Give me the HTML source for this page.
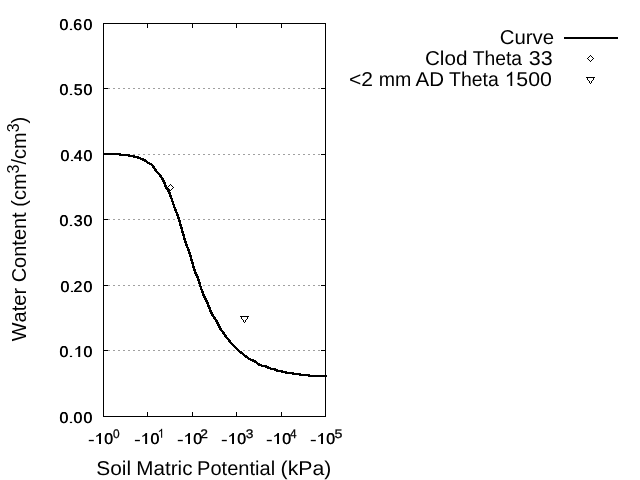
<!DOCTYPE html>
<html><head><meta charset="utf-8"><title>Water Retention Curve</title>
<style>html,body{margin:0;padding:0;background:#fff;width:640px;height:480px;overflow:hidden}text{font-kerning:none}</style>
</head><body>
<svg width="640" height="480" viewBox="0 0 640 480" style="position:absolute;left:0;top:0;will-change:transform">
<rect x="0" y="0" width="640" height="480" fill="#fff"/>
<path d="M103,350.5H325" stroke="#a0a0a0" stroke-width="1" stroke-dasharray="2,3" shape-rendering="crispEdges" fill="none"/>
<path d="M103,285.5H325" stroke="#a0a0a0" stroke-width="1" stroke-dasharray="2,3" shape-rendering="crispEdges" fill="none"/>
<path d="M103,219.5H325" stroke="#a0a0a0" stroke-width="1" stroke-dasharray="2,3" shape-rendering="crispEdges" fill="none"/>
<path d="M103,154.5H325" stroke="#a0a0a0" stroke-width="1" stroke-dasharray="2,3" shape-rendering="crispEdges" fill="none"/>
<path d="M103,88.5H325" stroke="#a0a0a0" stroke-width="1" stroke-dasharray="2,3" shape-rendering="crispEdges" fill="none"/>
<g shape-rendering="crispEdges" fill="#000">
<rect x="103" y="23" width="223" height="1"/>
<rect x="103" y="416" width="223" height="1"/>
<rect x="103" y="23" width="1" height="394"/>
<rect x="325" y="23" width="1" height="394"/>
<rect x="104" y="350" width="4" height="1"/>
<rect x="321" y="350" width="4" height="1"/>
<rect x="104" y="285" width="4" height="1"/>
<rect x="321" y="285" width="4" height="1"/>
<rect x="104" y="219" width="4" height="1"/>
<rect x="321" y="219" width="4" height="1"/>
<rect x="104" y="154" width="4" height="1"/>
<rect x="321" y="154" width="4" height="1"/>
<rect x="104" y="88" width="4" height="1"/>
<rect x="321" y="88" width="4" height="1"/>
<rect x="147" y="412" width="1" height="4"/>
<rect x="147" y="24" width="1" height="4"/>
<rect x="192" y="412" width="1" height="4"/>
<rect x="192" y="24" width="1" height="4"/>
<rect x="236" y="412" width="1" height="4"/>
<rect x="236" y="24" width="1" height="4"/>
<rect x="281" y="412" width="1" height="4"/>
<rect x="281" y="24" width="1" height="4"/>
</g>
<polyline points="104,154 106,154 108,154 110,154 112,154 115,154 117,154 119,154 121,155 124,155 126,155 128,155 130,156 133,156 135,157 137,157 139,158 142,159 144,160 146,161 148,163 151,164 153,166 155,169 157,172 160,175 162,178 164,182 166,187 169,192 171,197 173,203 175,209 178,216 180,223 182,230 184,237 186,244 189,251 191,258 193,265 195,272 198,278 200,285 202,291 204,296 207,302 209,307 211,312 213,316 216,320 218,324 220,328 222,331 225,335 227,338 229,340 231,343 234,346 236,348 238,350 240,352 243,354 245,356 247,357 249,359 252,360 254,361 256,362 258,364 260,365 263,366 265,366 267,367 269,368 272,369 274,369 276,370 278,371 281,371 283,372 285,372 287,373 290,373 292,373 294,374 296,374 299,374 301,375 303,375 305,375 308,375 310,376 312,376 314,376 317,376 319,376 321,376 323,376 327,376" fill="none" stroke="#000" stroke-width="2.5" stroke-linejoin="round" shape-rendering="crispEdges"/>
<rect x="564" y="37" width="54" height="2" fill="#000" shape-rendering="crispEdges"/>
<g shape-rendering="crispEdges" fill="#000">
<rect x="170" y="184" width="1" height="1"/><rect x="169" y="185" width="1" height="1"/><rect x="171" y="185" width="1" height="1"/><rect x="168" y="186" width="1" height="1"/><rect x="172" y="186" width="1" height="1"/><rect x="167" y="187" width="1" height="1"/><rect x="173" y="187" width="1" height="1"/><rect x="168" y="188" width="1" height="1"/><rect x="172" y="188" width="1" height="1"/><rect x="169" y="189" width="1" height="1"/><rect x="171" y="189" width="1" height="1"/><rect x="170" y="190" width="1" height="1"/>
<rect x="240" y="316" width="9" height="1"/><rect x="241" y="317" width="1" height="1"/><rect x="247" y="317" width="1" height="1"/><rect x="241" y="318" width="1" height="1"/><rect x="247" y="318" width="1" height="1"/><rect x="242" y="319" width="1" height="1"/><rect x="246" y="319" width="1" height="1"/><rect x="243" y="320" width="1" height="1"/><rect x="245" y="320" width="1" height="1"/><rect x="243" y="321" width="1" height="1"/><rect x="245" y="321" width="1" height="1"/><rect x="244" y="322" width="1" height="1"/>
<rect x="590" y="55" width="1" height="1"/><rect x="589" y="56" width="1" height="1"/><rect x="591" y="56" width="1" height="1"/><rect x="588" y="57" width="1" height="1"/><rect x="592" y="57" width="1" height="1"/><rect x="587" y="58" width="1" height="1"/><rect x="593" y="58" width="1" height="1"/><rect x="588" y="59" width="1" height="1"/><rect x="592" y="59" width="1" height="1"/><rect x="589" y="60" width="1" height="1"/><rect x="591" y="60" width="1" height="1"/><rect x="590" y="61" width="1" height="1"/>
<rect x="586" y="77" width="9" height="1"/><rect x="587" y="78" width="1" height="1"/><rect x="593" y="78" width="1" height="1"/><rect x="587" y="79" width="1" height="1"/><rect x="593" y="79" width="1" height="1"/><rect x="588" y="80" width="1" height="1"/><rect x="592" y="80" width="1" height="1"/><rect x="589" y="81" width="1" height="1"/><rect x="591" y="81" width="1" height="1"/><rect x="589" y="82" width="1" height="1"/><rect x="591" y="82" width="1" height="1"/><rect x="590" y="83" width="1" height="1"/>
</g>
<text transform="translate(59.33,423) scale(1.02,1)" font-family="Liberation Sans, sans-serif" font-size="15.6" letter-spacing="0.6" text-anchor="start" text-rendering="geometricPrecision">0</text><text transform="translate(59.83,423) scale(1.02,1)" font-family="Liberation Sans, sans-serif" font-size="15.6" letter-spacing="0.6" text-anchor="start" text-rendering="geometricPrecision">0</text>
<rect x="69.9" y="421.80" width="2.2" height="1.25" fill="#000"/>
<text transform="translate(73.18,423) scale(1.02,1)" font-family="Liberation Sans, sans-serif" font-size="15.6" letter-spacing="0.6" text-anchor="start" text-rendering="geometricPrecision">0</text><text transform="translate(73.68,423) scale(1.02,1)" font-family="Liberation Sans, sans-serif" font-size="15.6" letter-spacing="0.6" text-anchor="start" text-rendering="geometricPrecision">0</text>
<text transform="translate(83.18,423) scale(1.02,1)" font-family="Liberation Sans, sans-serif" font-size="15.6" letter-spacing="0.6" text-anchor="start" text-rendering="geometricPrecision">0</text><text transform="translate(83.68,423) scale(1.02,1)" font-family="Liberation Sans, sans-serif" font-size="15.6" letter-spacing="0.6" text-anchor="start" text-rendering="geometricPrecision">0</text>
<text transform="translate(59.33,357) scale(1.02,1)" font-family="Liberation Sans, sans-serif" font-size="15.6" letter-spacing="0.6" text-anchor="start" text-rendering="geometricPrecision">0</text><text transform="translate(59.83,357) scale(1.02,1)" font-family="Liberation Sans, sans-serif" font-size="15.6" letter-spacing="0.6" text-anchor="start" text-rendering="geometricPrecision">0</text>
<rect x="69.9" y="355.80" width="2.2" height="1.25" fill="#000"/>
<path d="M80.20,357.00 H78.23 V348.38 Q77.72,348.84 76.88,349.31 T75.39,350.01 V348.70 Q76.57,348.16 77.46,347.41 T78.72,345.98 H80.20 Z" fill="#000"/>
<text transform="translate(83.18,357) scale(1.02,1)" font-family="Liberation Sans, sans-serif" font-size="15.6" letter-spacing="0.6" text-anchor="start" text-rendering="geometricPrecision">0</text><text transform="translate(83.68,357) scale(1.02,1)" font-family="Liberation Sans, sans-serif" font-size="15.6" letter-spacing="0.6" text-anchor="start" text-rendering="geometricPrecision">0</text>
<text transform="translate(60.33,292) scale(1.02,1)" font-family="Liberation Sans, sans-serif" font-size="15.6" letter-spacing="0.6" text-anchor="start" text-rendering="geometricPrecision">0</text><text transform="translate(60.83,292) scale(1.02,1)" font-family="Liberation Sans, sans-serif" font-size="15.6" letter-spacing="0.6" text-anchor="start" text-rendering="geometricPrecision">0</text>
<rect x="70.9" y="290.80" width="2.2" height="1.25" fill="#000"/>
<text transform="translate(73.20,292) scale(1.02,1)" font-family="Liberation Sans, sans-serif" font-size="15.6" letter-spacing="0.6" text-anchor="start" text-rendering="geometricPrecision">2</text><text transform="translate(73.70,292) scale(1.02,1)" font-family="Liberation Sans, sans-serif" font-size="15.6" letter-spacing="0.6" text-anchor="start" text-rendering="geometricPrecision">2</text>
<text transform="translate(83.18,292) scale(1.02,1)" font-family="Liberation Sans, sans-serif" font-size="15.6" letter-spacing="0.6" text-anchor="start" text-rendering="geometricPrecision">0</text><text transform="translate(83.68,292) scale(1.02,1)" font-family="Liberation Sans, sans-serif" font-size="15.6" letter-spacing="0.6" text-anchor="start" text-rendering="geometricPrecision">0</text>
<text transform="translate(59.33,226) scale(1.02,1)" font-family="Liberation Sans, sans-serif" font-size="15.6" letter-spacing="0.6" text-anchor="start" text-rendering="geometricPrecision">0</text><text transform="translate(59.83,226) scale(1.02,1)" font-family="Liberation Sans, sans-serif" font-size="15.6" letter-spacing="0.6" text-anchor="start" text-rendering="geometricPrecision">0</text>
<rect x="69.9" y="224.80" width="2.2" height="1.25" fill="#000"/>
<text transform="translate(73.39,226) scale(1.02,1)" font-family="Liberation Sans, sans-serif" font-size="15.6" letter-spacing="0.6" text-anchor="start" text-rendering="geometricPrecision">3</text><text transform="translate(73.89,226) scale(1.02,1)" font-family="Liberation Sans, sans-serif" font-size="15.6" letter-spacing="0.6" text-anchor="start" text-rendering="geometricPrecision">3</text>
<text transform="translate(83.18,226) scale(1.02,1)" font-family="Liberation Sans, sans-serif" font-size="15.6" letter-spacing="0.6" text-anchor="start" text-rendering="geometricPrecision">0</text><text transform="translate(83.68,226) scale(1.02,1)" font-family="Liberation Sans, sans-serif" font-size="15.6" letter-spacing="0.6" text-anchor="start" text-rendering="geometricPrecision">0</text>
<text transform="translate(60.33,161) scale(1.02,1)" font-family="Liberation Sans, sans-serif" font-size="15.6" letter-spacing="0.6" text-anchor="start" text-rendering="geometricPrecision">0</text><text transform="translate(60.83,161) scale(1.02,1)" font-family="Liberation Sans, sans-serif" font-size="15.6" letter-spacing="0.6" text-anchor="start" text-rendering="geometricPrecision">0</text>
<rect x="70.9" y="159.80" width="2.2" height="1.25" fill="#000"/>
<text transform="translate(73.43,161) scale(1.02,1)" font-family="Liberation Sans, sans-serif" font-size="15.6" letter-spacing="0.6" text-anchor="start" text-rendering="geometricPrecision">4</text><text transform="translate(73.93,161) scale(1.02,1)" font-family="Liberation Sans, sans-serif" font-size="15.6" letter-spacing="0.6" text-anchor="start" text-rendering="geometricPrecision">4</text>
<text transform="translate(83.18,161) scale(1.02,1)" font-family="Liberation Sans, sans-serif" font-size="15.6" letter-spacing="0.6" text-anchor="start" text-rendering="geometricPrecision">0</text><text transform="translate(83.68,161) scale(1.02,1)" font-family="Liberation Sans, sans-serif" font-size="15.6" letter-spacing="0.6" text-anchor="start" text-rendering="geometricPrecision">0</text>
<text transform="translate(59.33,95) scale(1.02,1)" font-family="Liberation Sans, sans-serif" font-size="15.6" letter-spacing="0.6" text-anchor="start" text-rendering="geometricPrecision">0</text><text transform="translate(59.83,95) scale(1.02,1)" font-family="Liberation Sans, sans-serif" font-size="15.6" letter-spacing="0.6" text-anchor="start" text-rendering="geometricPrecision">0</text>
<rect x="69.9" y="93.80" width="2.2" height="1.25" fill="#000"/>
<text transform="translate(73.46,95) scale(1.02,1)" font-family="Liberation Sans, sans-serif" font-size="15.6" letter-spacing="0.6" text-anchor="start" text-rendering="geometricPrecision">5</text><text transform="translate(73.96,95) scale(1.02,1)" font-family="Liberation Sans, sans-serif" font-size="15.6" letter-spacing="0.6" text-anchor="start" text-rendering="geometricPrecision">5</text>
<text transform="translate(83.18,95) scale(1.02,1)" font-family="Liberation Sans, sans-serif" font-size="15.6" letter-spacing="0.6" text-anchor="start" text-rendering="geometricPrecision">0</text><text transform="translate(83.68,95) scale(1.02,1)" font-family="Liberation Sans, sans-serif" font-size="15.6" letter-spacing="0.6" text-anchor="start" text-rendering="geometricPrecision">0</text>
<text transform="translate(59.33,30) scale(1.02,1)" font-family="Liberation Sans, sans-serif" font-size="15.6" letter-spacing="0.6" text-anchor="start" text-rendering="geometricPrecision">0</text><text transform="translate(59.83,30) scale(1.02,1)" font-family="Liberation Sans, sans-serif" font-size="15.6" letter-spacing="0.6" text-anchor="start" text-rendering="geometricPrecision">0</text>
<rect x="69.9" y="28.80" width="2.2" height="1.25" fill="#000"/>
<text transform="translate(72.99,30) scale(1.02,1)" font-family="Liberation Sans, sans-serif" font-size="15.6" letter-spacing="0.6" text-anchor="start" text-rendering="geometricPrecision">6</text><text transform="translate(73.49,30) scale(1.02,1)" font-family="Liberation Sans, sans-serif" font-size="15.6" letter-spacing="0.6" text-anchor="start" text-rendering="geometricPrecision">6</text>
<text transform="translate(83.18,30) scale(1.02,1)" font-family="Liberation Sans, sans-serif" font-size="15.6" letter-spacing="0.6" text-anchor="start" text-rendering="geometricPrecision">0</text><text transform="translate(83.68,30) scale(1.02,1)" font-family="Liberation Sans, sans-serif" font-size="15.6" letter-spacing="0.6" text-anchor="start" text-rendering="geometricPrecision">0</text>
<rect x="88.80" y="439.85" width="5" height="1.35" fill="#000"/>
<path d="M101.00,444.00 H99.03 V435.38 Q98.52,435.84 97.68,436.31 T96.19,437.01 V435.70 Q97.37,435.16 98.26,434.41 T99.52,432.98 H101.00 Z" fill="#000"/>
<text transform="translate(104.07,444) scale(1.02,1)" font-family="Liberation Sans, sans-serif" font-size="15.6" letter-spacing="0.6" text-anchor="start" text-rendering="geometricPrecision">0</text><text transform="translate(104.57,444) scale(1.02,1)" font-family="Liberation Sans, sans-serif" font-size="15.6" letter-spacing="0.6" text-anchor="start" text-rendering="geometricPrecision">0</text>
<text transform="translate(112.93,437.7) scale(0.9616,1)" font-family="Liberation Sans, sans-serif" font-size="12.4" text-rendering="geometricPrecision" stroke="#000" stroke-width="0.25">0</text>
<rect x="134.90" y="439.85" width="5" height="1.35" fill="#000"/>
<path d="M147.10,444.00 H145.13 V435.38 Q144.62,435.84 143.78,436.31 T142.29,437.01 V435.70 Q143.47,435.16 144.36,434.41 T145.62,432.98 H147.10 Z" fill="#000"/>
<text transform="translate(150.17,444) scale(1.02,1)" font-family="Liberation Sans, sans-serif" font-size="15.6" letter-spacing="0.6" text-anchor="start" text-rendering="geometricPrecision">0</text><text transform="translate(150.67,444) scale(1.02,1)" font-family="Liberation Sans, sans-serif" font-size="15.6" letter-spacing="0.6" text-anchor="start" text-rendering="geometricPrecision">0</text>
<path d="M162.17,437.70 H161.08 V430.76 Q160.69,431.13 160.04,431.51 T158.90,432.07 V431.02 Q159.81,430.59 160.49,429.98 T161.46,428.82 H162.17 Z" fill="#000"/>
<rect x="177.80" y="439.85" width="5" height="1.35" fill="#000"/>
<path d="M190.00,444.00 H188.03 V435.38 Q187.52,435.84 186.68,436.31 T185.19,437.01 V435.70 Q186.37,435.16 187.26,434.41 T188.52,432.98 H190.00 Z" fill="#000"/>
<text transform="translate(193.07,444) scale(1.02,1)" font-family="Liberation Sans, sans-serif" font-size="15.6" letter-spacing="0.6" text-anchor="start" text-rendering="geometricPrecision">0</text><text transform="translate(193.57,444) scale(1.02,1)" font-family="Liberation Sans, sans-serif" font-size="15.6" letter-spacing="0.6" text-anchor="start" text-rendering="geometricPrecision">0</text>
<text transform="translate(200.20,437.7) scale(1.1152,1)" font-family="Liberation Sans, sans-serif" font-size="12.4" text-rendering="geometricPrecision" stroke="#000" stroke-width="0.25">2</text>
<rect x="221.80" y="439.85" width="5" height="1.35" fill="#000"/>
<path d="M234.00,444.00 H232.03 V435.38 Q231.52,435.84 230.68,436.31 T229.19,437.01 V435.70 Q230.37,435.16 231.26,434.41 T232.52,432.98 H234.00 Z" fill="#000"/>
<text transform="translate(237.07,444) scale(1.02,1)" font-family="Liberation Sans, sans-serif" font-size="15.6" letter-spacing="0.6" text-anchor="start" text-rendering="geometricPrecision">0</text><text transform="translate(237.57,444) scale(1.02,1)" font-family="Liberation Sans, sans-serif" font-size="15.6" letter-spacing="0.6" text-anchor="start" text-rendering="geometricPrecision">0</text>
<text transform="translate(245.67,437.7) scale(1.1141,1)" font-family="Liberation Sans, sans-serif" font-size="12.4" text-rendering="geometricPrecision" stroke="#000" stroke-width="0.25">3</text>
<rect x="266.80" y="439.85" width="5" height="1.35" fill="#000"/>
<path d="M279.00,444.00 H277.03 V435.38 Q276.52,435.84 275.68,436.31 T274.19,437.01 V435.70 Q275.37,435.16 276.26,434.41 T277.52,432.98 H279.00 Z" fill="#000"/>
<text transform="translate(282.07,444) scale(1.02,1)" font-family="Liberation Sans, sans-serif" font-size="15.6" letter-spacing="0.6" text-anchor="start" text-rendering="geometricPrecision">0</text><text transform="translate(282.57,444) scale(1.02,1)" font-family="Liberation Sans, sans-serif" font-size="15.6" letter-spacing="0.6" text-anchor="start" text-rendering="geometricPrecision">0</text>
<text transform="translate(289.98,437.7) scale(0.9522,1)" font-family="Liberation Sans, sans-serif" font-size="12.4" text-rendering="geometricPrecision" stroke="#000" stroke-width="0.25">4</text>
<rect x="310.80" y="439.85" width="5" height="1.35" fill="#000"/>
<path d="M323.00,444.00 H321.03 V435.38 Q320.52,435.84 319.68,436.31 T318.19,437.01 V435.70 Q319.37,435.16 320.26,434.41 T321.52,432.98 H323.00 Z" fill="#000"/>
<text transform="translate(326.07,444) scale(1.02,1)" font-family="Liberation Sans, sans-serif" font-size="15.6" letter-spacing="0.6" text-anchor="start" text-rendering="geometricPrecision">0</text><text transform="translate(326.57,444) scale(1.02,1)" font-family="Liberation Sans, sans-serif" font-size="15.6" letter-spacing="0.6" text-anchor="start" text-rendering="geometricPrecision">0</text>
<text transform="translate(334.43,437.7) scale(1.1481,1)" font-family="Liberation Sans, sans-serif" font-size="12.4" text-rendering="geometricPrecision" stroke="#000" stroke-width="0.25">5</text>
<text transform="translate(96.30,475) scale(1.0449,1)" font-family="Liberation Sans, sans-serif" font-size="20" text-rendering="geometricPrecision" >Soil</text>
<text transform="translate(136.31,475) scale(1.0311,1)" font-family="Liberation Sans, sans-serif" font-size="20" text-rendering="geometricPrecision" >Matric</text>
<text transform="translate(197.11,475) scale(1.0020,1)" font-family="Liberation Sans, sans-serif" font-size="20" text-rendering="geometricPrecision" >Potential</text>
<text transform="translate(280.58,475) scale(1.0617,1)" font-family="Liberation Sans, sans-serif" font-size="20" text-rendering="geometricPrecision" >(kPa)</text>
<text transform="translate(25.7,229) rotate(-90)" font-family="Liberation Sans, sans-serif" font-size="20" text-anchor="middle">Water Content (cm<tspan dy="-6.7" font-size="16">3</tspan><tspan dy="6.7">/cm</tspan><tspan dy="-6.7" font-size="16">3</tspan><tspan dy="6.7">)</tspan></text>
<text transform="translate(499.77,44) scale(1.0186,1)" font-family="Liberation Sans, sans-serif" font-size="20" text-rendering="geometricPrecision" >Curve</text>
<text transform="translate(424.95,65) scale(1.0328,1)" font-family="Liberation Sans, sans-serif" font-size="20" text-rendering="geometricPrecision" >Clod</text>
<text transform="translate(472.77,65) scale(0.9646,1)" font-family="Liberation Sans, sans-serif" font-size="20" text-rendering="geometricPrecision" >Theta</text>
<text transform="translate(528.78,65) scale(1.0774,1)" font-family="Liberation Sans, sans-serif" font-size="20" text-rendering="geometricPrecision" >33</text>
<text transform="translate(348.96,86) scale(1.0524,1)" font-family="Liberation Sans, sans-serif" font-size="20" text-rendering="geometricPrecision" >&lt;2</text>
<text transform="translate(378.70,86) scale(0.9780,1)" font-family="Liberation Sans, sans-serif" font-size="20" text-rendering="geometricPrecision" >mm</text>
<text transform="translate(415.56,86) scale(1.0266,1)" font-family="Liberation Sans, sans-serif" font-size="20" text-rendering="geometricPrecision" >AD</text>
<text transform="translate(449.06,86) scale(0.9715,1)" font-family="Liberation Sans, sans-serif" font-size="20" text-rendering="geometricPrecision" >Theta</text>
<text transform="translate(516.35,86) scale(1.0665,1)" font-family="Liberation Sans, sans-serif" font-size="20" text-rendering="geometricPrecision" >500</text>
<path d="M512.20,86.00 H510.44 V74.80 Q509.81,75.40 508.77,76.01 T506.93,76.92 V75.22 Q508.39,74.53 509.49,73.55 T511.05,71.68 H512.20 Z" fill="#000"/>
</svg>
</body></html>
